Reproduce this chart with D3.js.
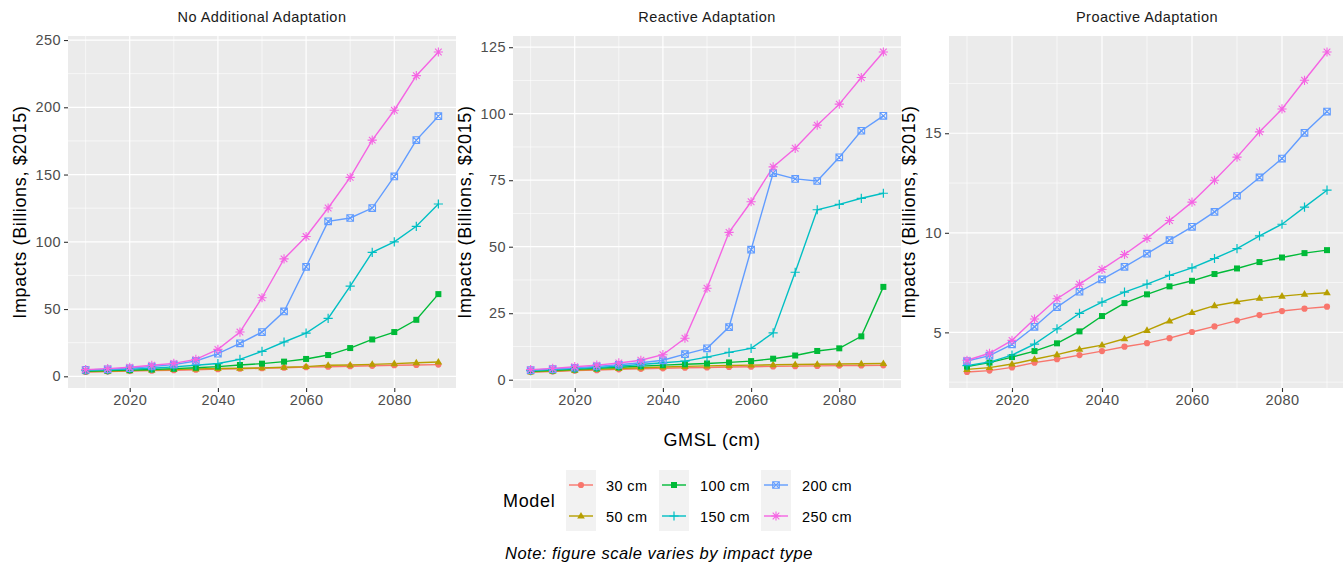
<!DOCTYPE html>
<html>
<head>
<meta charset="utf-8">
<script src="https://cdn.jsdelivr.net/npm/d3@7"></script>
<style>
  html, body { margin: 0; padding: 0; background: #ffffff; }
  svg { display: block; font-family: "Liberation Sans", Arial, Helvetica, sans-serif; }
</style>
</head>
<body>
<svg id="chart" width="1343" height="569"></svg>
<script>
// Sea-level scenarios and model years
const years = [2010, 2015, 2020, 2025, 2030, 2035, 2040, 2045, 2050, 2055, 2060, 2065, 2070, 2075, 2080, 2085, 2090];
const models = ["30 cm", "50 cm", "100 cm", "150 cm", "200 cm", "250 cm"];
const modelColors = ["#F8766D", "#B79F00", "#00BA38", "#00BFC4", "#619CFF", "#F564E3"];
const modelShapes = ["circle", "triangle", "square", "plus", "squarecross", "asterisk"];

const panelTitles = ["No Additional Adaptation", "Reactive Adaptation", "Proactive Adaptation"];
const xTicks = [2020, 2040, 2060, 2080];
const xMinorTicks = [2010, 2030, 2050, 2070, 2090];

// Impacts (billions, $2015), one array per scenario, per adaptation case
const noAdapt30  = [3.2, 3.5, 3.9, 4.2, 4.5, 4.9, 5.3, 5.6, 6.0, 6.4, 6.8, 7.1, 7.5, 7.8, 8.2, 8.4, 8.7];
const noAdapt50  = [3.5, 3.8, 4.2, 4.6, 5.0, 5.5, 5.8, 6.0, 6.3, 6.7, 7.2, 8.2, 8.4, 8.9, 9.4, 10.1, 10.6];
const noAdapt100 = [3.8, 4.2, 4.6, 5.1, 5.7, 6.4, 7.2, 8.4, 9.4, 10.9, 12.9, 15.8, 21.0, 27.4, 32.9, 42.0, 61.1];
const noAdapt150 = [4.5, 4.8, 5.3, 6.0, 7.0, 8.2, 9.5, 12.6, 18.5, 25.5, 32.1, 43.0, 67.0, 92.2, 99.9, 111.5, 128.1];
const noAdapt200 = [4.8, 5.2, 6.0, 7.3, 8.7, 11.4, 16.8, 24.5, 32.9, 48.2, 81.4, 115.2, 117.7, 125.1, 148.6, 175.6, 193.4];
const noAdapt250 = [5.0, 5.7, 6.7, 8.2, 9.6, 12.6, 20.0, 32.9, 58.4, 87.3, 103.9, 125.1, 147.9, 175.6, 197.8, 223.5, 241.1];

const reactive30  = [2.9, 3.1, 3.4, 3.6, 3.9, 4.1, 4.3, 4.5, 4.6, 4.8, 4.9, 5.0, 5.1, 5.2, 5.3, 5.35, 5.4];
const reactive50  = [3.0, 3.3, 3.6, 3.9, 4.2, 4.5, 4.8, 5.0, 5.2, 5.35, 5.5, 5.6, 5.7, 5.8, 5.9, 6.0, 6.1];
const reactive100 = [3.2, 3.5, 3.9, 4.3, 4.7, 5.1, 5.5, 5.8, 6.1, 6.5, 7.0, 7.9, 9.1, 10.8, 11.8, 16.3, 34.9];
const reactive150 = [3.4, 3.8, 4.2, 4.6, 5.1, 5.7, 6.4, 7.0, 8.5, 10.3, 11.8, 17.6, 40.4, 63.9, 65.9, 68.2, 70.1];
const reactive200 = [3.6, 4.0, 4.5, 5.0, 5.6, 6.4, 7.3, 9.6, 11.8, 19.8, 48.9, 77.7, 75.5, 74.7, 83.6, 93.6, 99.2];
const reactive250 = [3.8, 4.25, 4.9, 5.5, 6.3, 7.3, 9.4, 15.6, 34.4, 55.4, 66.9, 80.0, 87.0, 95.7, 103.6, 113.6, 123.2];

const proactive30  = [3.01, 3.08, 3.24, 3.48, 3.65, 3.86, 4.06, 4.28, 4.46, 4.71, 5.02, 5.30, 5.59, 5.87, 6.07, 6.19, 6.29];
const proactive50  = [3.14, 3.23, 3.41, 3.65, 3.88, 4.15, 4.36, 4.68, 5.10, 5.57, 6.00, 6.34, 6.54, 6.71, 6.82, 6.92, 6.99];
const proactive100 = [3.28, 3.48, 3.76, 4.06, 4.45, 5.05, 5.82, 6.47, 6.91, 7.31, 7.59, 7.93, 8.21, 8.53, 8.76, 8.98, 9.13];
const proactive150 = [3.33, 3.51, 3.86, 4.41, 5.18, 5.95, 6.52, 7.02, 7.42, 7.86, 8.24, 8.71, 9.21, 9.85, 10.43, 11.29, 12.14];
const proactive200 = [3.56, 3.83, 4.40, 5.28, 6.27, 7.04, 7.66, 8.29, 8.95, 9.63, 10.30, 11.05, 11.86, 12.78, 13.73, 15.02, 16.09];
const proactive250 = [3.60, 3.95, 4.60, 5.67, 6.69, 7.42, 8.16, 8.91, 9.72, 10.62, 11.54, 12.64, 13.80, 15.07, 16.22, 17.66, 19.08];

const yTicksNoAdapt   = [0, 50, 100, 150, 200, 250];
const yTicksReactive  = [0, 25, 50, 75, 100, 125];
const yTicksProactive = [5, 10, 15];

const panelSeries = [
  [noAdapt30, noAdapt50, noAdapt100, noAdapt150, noAdapt200, noAdapt250],
  [reactive30, reactive50, reactive100, reactive150, reactive200, reactive250],
  [proactive30, proactive50, proactive100, proactive150, proactive200, proactive250]
];
const panelYTicks = [yTicksNoAdapt, yTicksReactive, yTicksProactive];

// Layout of the three facets
const panelLeft  = [68, 513, 949];
const panelRight = [456, 901, 1345];
const yTitleOffset = [42, 42, 34];
const panelTop = 36, panelBottom = 388;

const svg = d3.select("#chart");

// Text styles
const styleStrip = s => s.style("font-size", "14.5px").style("letter-spacing", "0.45px").attr("fill", "#1A1A1A");
const styleTick  = s => s.style("font-size", "14.5px").style("letter-spacing", "0.4px").attr("fill", "#4D4D4D")
  .style("font-family", "Liberation Sans, Arial, sans-serif");
const styleTitle = s => s.style("font-size", "18px").style("letter-spacing", "0.65px").attr("fill", "#000000");

// Point glyphs in the style of ggplot2 shapes 16, 17, 15, 3, 7, 8
function drawShape(g, shape, cx, cy, color) {
  if (shape === "circle") {
    g.append("circle").attr("cx", cx).attr("cy", cy).attr("r", 3.1).attr("fill", color);
  } else if (shape === "triangle") {
    const s = 7.6, h = s * Math.sqrt(3) / 2;
    g.append("path")
      .attr("d", `M${cx},${cy - h * 0.62}L${cx + s / 2},${cy + h * 0.38}L${cx - s / 2},${cy + h * 0.38}Z`)
      .attr("fill", color);
  } else if (shape === "square") {
    g.append("rect").attr("x", cx - 3).attr("y", cy - 3).attr("width", 6).attr("height", 6).attr("fill", color);
  } else if (shape === "plus") {
    const r = 4.6;
    g.append("path").attr("d", `M${cx - r},${cy}H${cx + r}M${cx},${cy - r}V${cy + r}`)
      .attr("stroke", color).attr("stroke-width", 1.2).attr("fill", "none");
  } else if (shape === "squarecross") {
    const r = 3.3;
    g.append("path")
      .attr("d", `M${cx - r},${cy - r}H${cx + r}V${cy + r}H${cx - r}Z M${cx - r},${cy - r}L${cx + r},${cy + r}M${cx + r},${cy - r}L${cx - r},${cy + r}`)
      .attr("stroke", color).attr("stroke-width", 1.1).attr("fill", "none");
  } else if (shape === "asterisk") {
    const r = 4.6, d = r * 0.72;
    g.append("path")
      .attr("d", `M${cx - r},${cy}H${cx + r}M${cx},${cy - r}V${cy + r}M${cx - d},${cy - d}L${cx + d},${cy + d}M${cx + d},${cy - d}L${cx - d},${cy + d}`)
      .attr("stroke", color).attr("stroke-width", 1.1).attr("fill", "none");
  }
}

panelSeries.forEach((series, p) => {
  const span = years[years.length - 1] - years[0];
  const x = d3.scaleLinear()
    .domain([years[0] - 0.05 * span, years[years.length - 1] + 0.05 * span])
    .range([panelLeft[p], panelRight[p]]);
  const all = series.flat();
  const lo = d3.min(all), hi = d3.max(all), pad = 0.05 * (hi - lo);
  const y = d3.scaleLinear().domain([lo - pad, hi + pad]).range([panelBottom, panelTop]);

  const g = svg.append("g");

  // panel background
  g.append("rect")
    .attr("x", panelLeft[p]).attr("y", panelTop)
    .attr("width", panelRight[p] - panelLeft[p]).attr("height", panelBottom - panelTop)
    .attr("fill", "#EBEBEB");

  // minor grid
  const ticks = panelYTicks[p];
  const step = ticks[1] - ticks[0];
  const yMinor = [];
  for (let v = ticks[0] - step / 2; v <= hi + pad; v += step) if (v >= lo - pad) yMinor.push(v);
  g.selectAll(".ymin").data(yMinor).join("line")
    .attr("x1", panelLeft[p]).attr("x2", panelRight[p])
    .attr("y1", d => y(d)).attr("y2", d => y(d))
    .attr("stroke", "#ffffff").attr("stroke-width", 0.6);
  g.selectAll(".xmin").data(xMinorTicks).join("line")
    .attr("y1", panelTop).attr("y2", panelBottom)
    .attr("x1", d => x(d)).attr("x2", d => x(d))
    .attr("stroke", "#ffffff").attr("stroke-width", 0.6);

  // major grid
  g.selectAll(".ymaj").data(ticks).join("line")
    .attr("x1", panelLeft[p]).attr("x2", panelRight[p])
    .attr("y1", d => y(d)).attr("y2", d => y(d))
    .attr("stroke", "#ffffff").attr("stroke-width", 1.2);
  g.selectAll(".xmaj").data(xTicks).join("line")
    .attr("y1", panelTop).attr("y2", panelBottom)
    .attr("x1", d => x(d)).attr("x2", d => x(d))
    .attr("stroke", "#ffffff").attr("stroke-width", 1.2);

  // axes
  const yAxis = d3.axisLeft(y).tickValues(ticks).tickSize(4).tickPadding(3).tickFormat(d3.format("d"));
  const ya = g.append("g").attr("transform", `translate(${panelLeft[p]},0)`).call(yAxis);
  const xAxis = d3.axisBottom(x).tickValues(xTicks).tickSize(4).tickPadding(3).tickFormat(d3.format("d"));
  const xa = g.append("g").attr("transform", `translate(0,${panelBottom})`).call(xAxis);
  [ya, xa].forEach(a => {
    a.select(".domain").remove();
    a.selectAll(".tick line").attr("stroke", "#333333").attr("stroke-width", 1.1);
    a.selectAll(".tick text").call(styleTick);
  });

  // facet title
  g.append("text")
    .attr("x", (panelLeft[p] + panelRight[p]) / 2)
    .attr("y", 22)
    .attr("text-anchor", "middle")
    .call(styleStrip)
    .text(panelTitles[p]);

  // y axis title
  g.append("text")
    .attr("transform", `translate(${panelLeft[p] - yTitleOffset[p]},${(panelTop + panelBottom) / 2}) rotate(-90)`)
    .attr("text-anchor", "middle")
    .call(styleTitle)
    .text("Impacts (Billions, $2015)");

  // lines
  const line = d3.line().x((d, i) => x(years[i])).y(d => y(d));
  series.forEach((vals, m) => {
    g.append("path").datum(vals)
      .attr("d", line)
      .attr("fill", "none")
      .attr("stroke", modelColors[m])
      .attr("stroke-width", 1.4);
  });
  // points
  series.forEach((vals, m) => {
    vals.forEach((v, i) => drawShape(g, modelShapes[m], x(years[i]), y(v), modelColors[m]));
  });
});

// shared x axis title
svg.append("text")
  .attr("x", 712).attr("y", 446)
  .attr("text-anchor", "middle")
  .call(styleTitle)
  .text("GMSL (cm)");

// legend
const legend = svg.append("g");
legend.append("text").attr("x", 503).attr("y", 507).call(styleTitle).text("Model");
const keyCols = [566, 659, 761];
const labelCols = [606, 700, 802];
const rowCenters = [485, 516];
keyCols.forEach(kx => {
  legend.append("rect").attr("x", kx).attr("y", 470).attr("width", 30).attr("height", 61).attr("fill", "#F2F2F2");
});
models.forEach((name, m) => {
  const col = Math.floor(m / 2), row = m % 2;
  const cy = rowCenters[row];
  legend.append("line")
    .attr("x1", keyCols[col] + 3).attr("x2", keyCols[col] + 27)
    .attr("y1", cy).attr("y2", cy)
    .attr("stroke", modelColors[m]).attr("stroke-width", 1.4);
  drawShape(legend, modelShapes[m], keyCols[col] + 15, cy, modelColors[m]);
  legend.append("text")
    .attr("x", labelCols[col]).attr("y", cy + 5.5)
    .style("font-size", "14.5px").style("letter-spacing", "0.4px")
    .attr("fill", "#000000")
    .text(name);
});

// caption
svg.append("text")
  .attr("x", 505).attr("y", 559)
  .style("font-size", "16.5px")
  .style("letter-spacing", "0.5px")
  .style("font-style", "italic")
  .text("Note: figure scale varies by impact type");
</script>
</body>
</html>
